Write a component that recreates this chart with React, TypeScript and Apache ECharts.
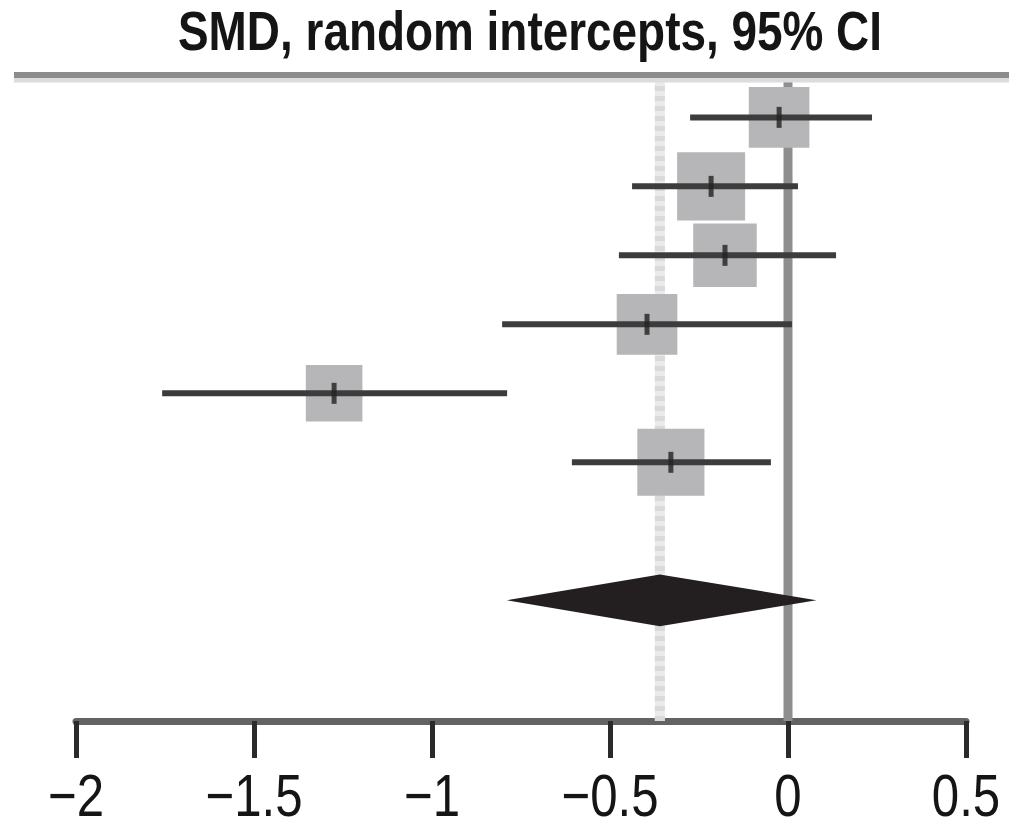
import React, { useEffect, useRef } from "react";
import * as echarts from "echarts";

// ---- data ----
const titleText = "SMD, random intercepts, 95% CI";
const rowIndex = [0, 1, 2, 3, 4, 5];
const estimates = [-0.025, -0.216, -0.177, -0.396, -1.275, -0.329];
const lowerCI = [-0.275, -0.438, -0.475, -0.803, -1.758, -0.607];
const upperCI = [0.236, 0.028, 0.135, 0.011, -0.789, -0.048];
const weights = [15.5, 19.5, 17, 15.5, 13.5, 19];
const summaryRow = 7;
const summaryEstimate = -0.36;
const summaryLower = -0.79;
const summaryUpper = 0.08;
const xTickValues = [-2, -1.5, -1, -0.5, 0, 0.5];
const xTickLabels = ["\u22122", "\u22121.5", "\u22121", "\u22120.5", "0", "0.5"];

const FONT = "'Liberation Sans', Arial, sans-serif";
const NARROW = 0.82;
const Y_MIN = -0.6;
const Y_MAX = 8.75;

export default function App() {
  const ref = useRef<HTMLDivElement>(null);
  useEffect(() => {
    if (!ref.current) return;
    const chart = echarts.init(ref.current, undefined, { renderer: "svg" });

    const squares = rowIndex.map((r, i) => [estimates[i], r, weights[i]]);
    const ciData = rowIndex.map((r, i) => [lowerCI[i], upperCI[i], r]);
    const ticks = rowIndex.map((r, i) => [estimates[i], r]);
    const tickLabelData = xTickValues.map((v, i) => [v, i]);

    const option: any = {
      animation: false,
      backgroundColor: "#ffffff",
      grid: { left: 76, right: 43, top: 76, bottom: 99, containLabel: false },
      xAxis: {
        type: "value",
        min: xTickValues[0],
        max: xTickValues[xTickValues.length - 1],
        interval: 0.5,
        axisLine: { show: true, onZero: false, lineStyle: { color: "#636363", width: 7 } },
        axisTick: { show: true, length: 37, lineStyle: { color: "#2a2a2a", width: 5 } },
        splitLine: { show: false },
        axisLabel: { show: false },
      },
      yAxis: { type: "value", min: Y_MIN, max: Y_MAX, inverse: true, show: false },
      graphic: [
        { type: "line", shape: { x1: 14, y1: 80, x2: 1009, y2: 80 }, style: { stroke: "#dcdcdc", lineWidth: 5 }, z: 100 },
        { type: "line", shape: { x1: 14, y1: 75, x2: 1009, y2: 75 }, style: { stroke: "#8c8c8c", lineWidth: 6 }, z: 100 },
        {
          type: "text",
          x: 530,
          y: 31,
          scaleX: NARROW,
          z: 100,
          style: {
            text: titleText,
            fontFamily: FONT,
            fontSize: 56,
            fontWeight: "bold",
            fill: "#151515",
            align: "center",
            verticalAlign: "middle",
            lineHeight: 44,
          },
        },
      ],
      series: [
        {
          type: "line",
          data: [[summaryEstimate, Y_MIN], [summaryEstimate, Y_MAX]],
          symbol: "none",
          silent: true,
          lineStyle: { color: "#eaeaea", width: 10 },
          z: 1,
        },
        {
          type: "line",
          data: [[summaryEstimate, Y_MIN], [summaryEstimate, Y_MAX]],
          symbol: "none",
          silent: true,
          lineStyle: { color: "#dadada", width: 10, type: [5, 5] },
          z: 1,
        },
        {
          type: "line",
          data: [[0, Y_MIN], [0, Y_MAX]],
          symbol: "none",
          silent: true,
          lineStyle: { color: "#8e8e8e", width: 9 },
          z: 2,
        },
        {
          type: "scatter",
          data: squares,
          symbol: "rect",
          symbolSize: (d: number[]) => Math.sqrt(d[2]) * 15.4,
          itemStyle: { color: "#b6b6b8", opacity: 1 },
          z: 3,
        },
        {
          type: "custom",
          data: ciData,
          encode: { x: [0, 1], y: 2 },
          z: 4,
          renderItem: (params: any, api: any) => {
            const a = api.coord([api.value(0), api.value(2)]);
            const b = api.coord([api.value(1), api.value(2)]);
            return {
              type: "line",
              shape: { x1: a[0], y1: a[1], x2: b[0], y2: b[1] },
              style: { stroke: "#3c3c3c", lineWidth: 6 },
            };
          },
        },
        {
          type: "scatter",
          data: ticks,
          symbol: "rect",
          symbolSize: [5, 21],
          itemStyle: { color: "#222222" },
          z: 5,
        },
        {
          type: "custom",
          data: [[summaryLower, summaryEstimate, summaryUpper, summaryRow]],
          encode: { x: [0, 1, 2], y: 3 },
          z: 6,
          renderItem: (params: any, api: any) => {
            const row = api.value(3);
            const l = api.coord([api.value(0), row]);
            const m = api.coord([api.value(1), row]);
            const u = api.coord([api.value(2), row]);
            const top = api.coord([api.value(1), row - 0.375]);
            const bot = api.coord([api.value(1), row + 0.375]);
            return {
              type: "polygon",
              shape: { points: [l, [m[0], top[1]], u, [m[0], bot[1]]] },
              style: { fill: "#231f20" },
            };
          },
        },
        {
          type: "custom",
          data: tickLabelData,
          encode: { x: 0 },
          clip: false,
          silent: true,
          z: 7,
          renderItem: (params: any, api: any) => {
            const p = api.coord([api.value(0), Y_MAX]);
            return {
              type: "text",
              x: p[0],
              y: p[1] + 74,
              scaleX: NARROW,
              style: {
                text: xTickLabels[api.value(1)],
                fontFamily: FONT,
                fontSize: 60,
                fill: "#151515",
                align: "center",
                verticalAlign: "middle",
                lineHeight: 44,
              },
            };
          },
        },
      ],
    };
    chart.setOption(option);
    return () => chart.dispose();
  }, []);
  return (
    <div
      ref={ref}
      style={{ position: "fixed", left: 0, top: 0, width: 1009, height: 820, background: "#fff" }}
    />
  );
}
